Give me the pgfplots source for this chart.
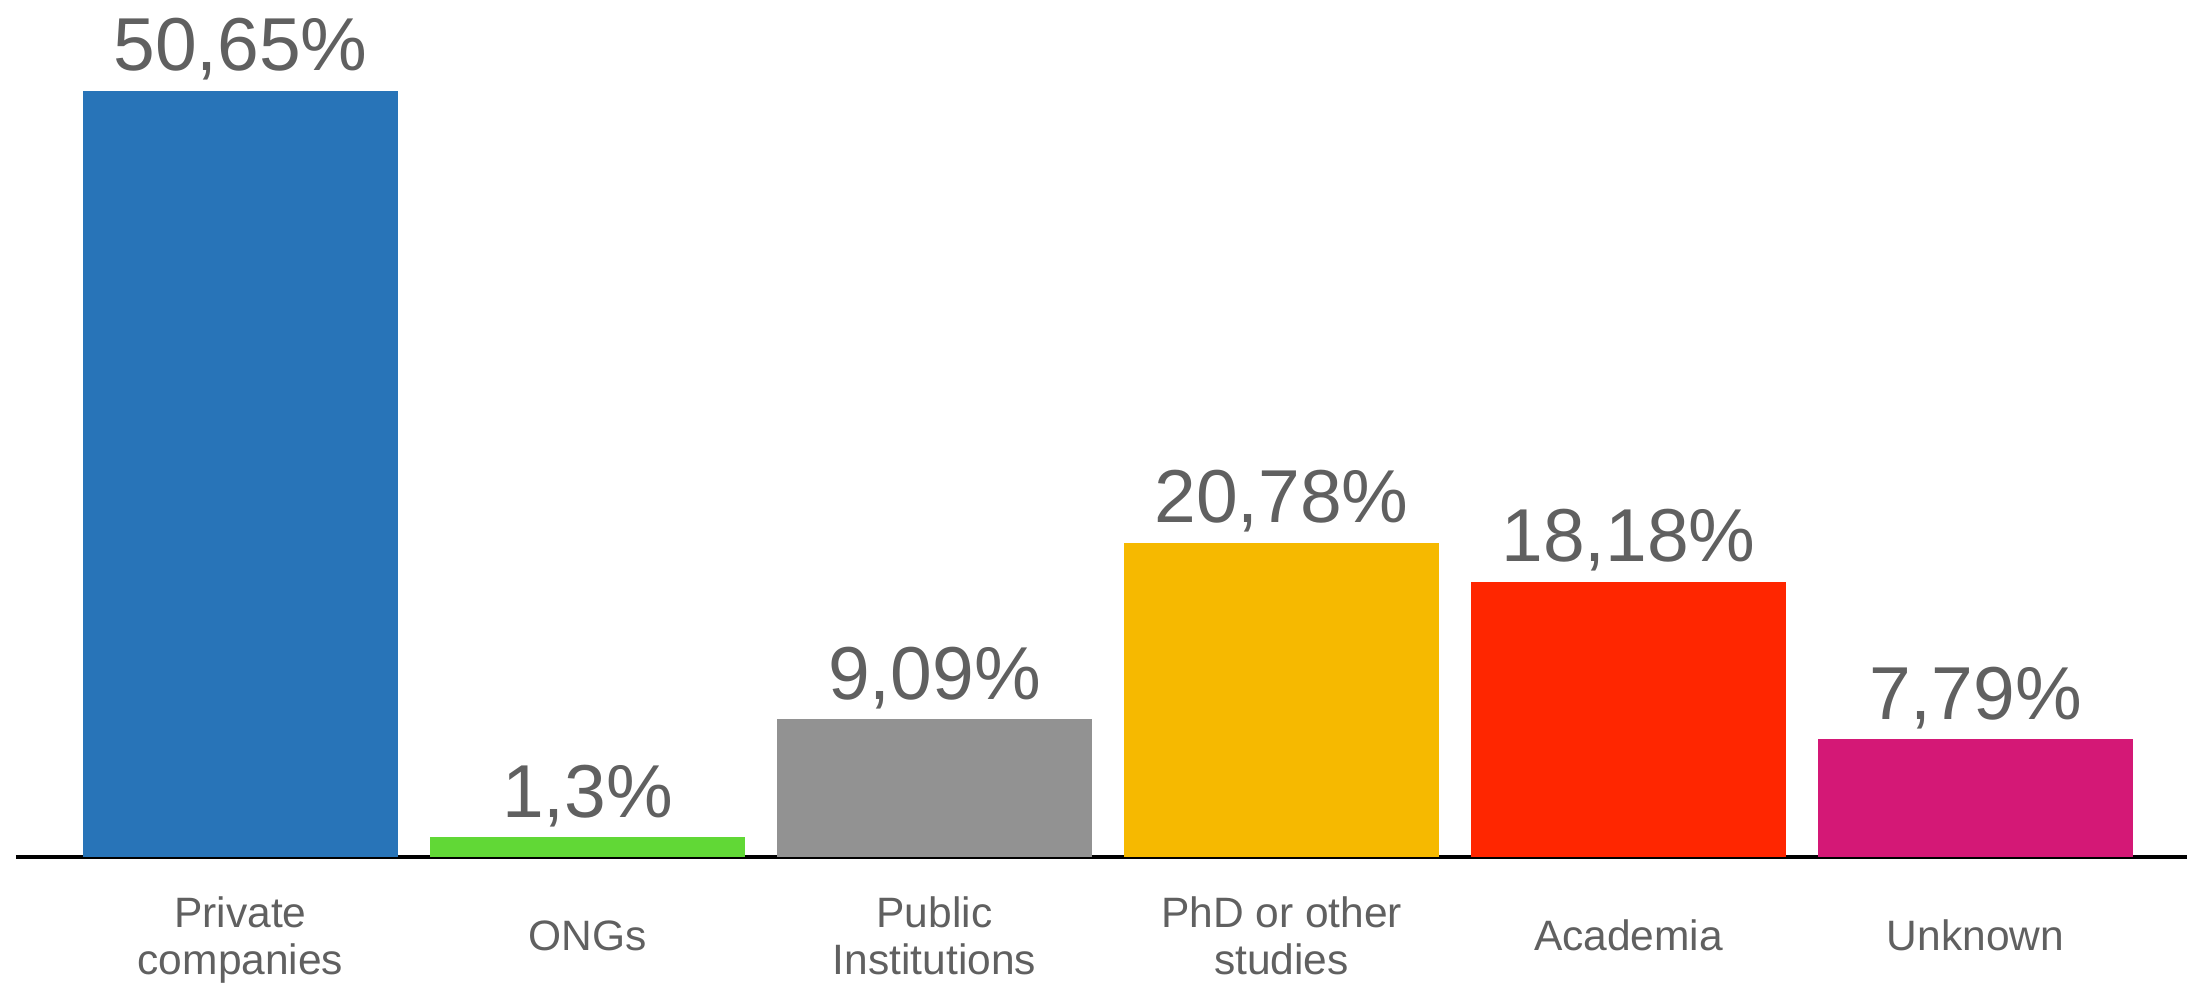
\documentclass[border=0pt]{standalone}
\usepackage{pgfplots}
\pgfplotsset{compat=1.18}
\usepackage{fontspec}
\setmainfont{Liberation Sans}
\definecolor{txt}{HTML}{606060}
\definecolor{cblue}{HTML}{2874B8}
\definecolor{cgreen}{HTML}{61D836}
\definecolor{cgray}{HTML}{929292}
\definecolor{cyellow}{HTML}{F6B900}
\definecolor{cred}{HTML}{FF2600}
\definecolor{cpink}{HTML}{D41876}
\begin{document}
\begin{tikzpicture}
\useasboundingbox (-3.2pt,-25.4pt) rectangle (434.2pt,171.4pt);
\begin{axis}[
  at={(0pt,0pt)}, anchor=south west,
  scale only axis, width=434.2pt, height=171.4pt,
  xmin=-0.647, xmax=5.6095, ymin=0, ymax=56.64,
  hide y axis,
  axis x line*=bottom,
  x axis line style={black, line width=0.7pt, -},
  xtick={0,1,2,3,4,5},
  xticklabels={{\strut Private\\\strut companies},{\strut ONGs},{\strut Public\\\strut Institutions},{\strut PhD or other\\\strut studies},{\strut Academia},{\strut Unknown}},
  major tick length=0pt,
  xtick style={draw=none},
  xticklabel style={anchor=center, yshift=-16.9pt, align=center, text=txt,
     font=\fontsize{8.5}{9.3}\selectfont},
  ybar, bar width=63pt,
  point meta=explicit symbolic,
  nodes near coords,
  every node near coord/.append style={anchor=base, yshift=4pt, text=txt,
     font=\fontsize{15}{18}\selectfont},
  clip=false,
]
\addplot[fill=cblue, draw=none, bar shift=0pt] coordinates {(0,50.65) [50,65\%]};
\addplot[fill=cgreen, draw=none, bar shift=0pt] coordinates {(1,1.30) [1,3\%]};
\addplot[fill=cgray, draw=none, bar shift=0pt] coordinates {(2,9.09) [9,09\%]};
\addplot[fill=cyellow, draw=none, bar shift=0pt] coordinates {(3,20.78) [20,78\%]};
\addplot[fill=cred, draw=none, bar shift=0pt] coordinates {(4,18.18) [18,18\%]};
\addplot[fill=cpink, draw=none, bar shift=0pt] coordinates {(5,7.79) [7,79\%]};
\end{axis}
\end{tikzpicture}
\end{document}
